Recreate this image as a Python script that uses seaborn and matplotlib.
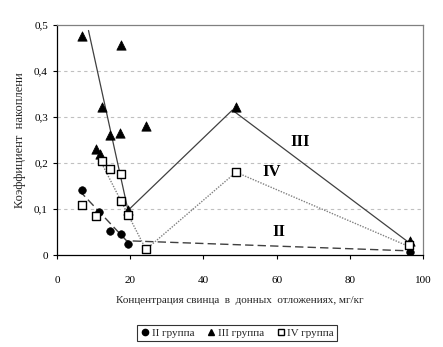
import matplotlib
matplotlib.use("Agg")
import matplotlib.pyplot as plt
import seaborn as sns
import pandas as pd
from matplotlib.lines import Line2D

sns.set_style("white")
plt.rcParams['font.family'] = ['Liberation Serif', 'DejaVu Serif']

# Data
g2_x = [6.7, 11.6, 14.5, 17.4, 19.4, 96.4]
g2_y = [0.141, 0.093, 0.052, 0.046, 0.025, 0.007]

g3_x = [6.9, 17.5, 12.4, 14.5, 17.3, 24.3, 10.6, 11.7, 19.4, 48.9, 96.4]
g3_y = [0.476, 0.457, 0.322, 0.26, 0.265, 0.28, 0.23, 0.22, 0.097, 0.322, 0.03]

g4_x = [6.8, 10.6, 12.3, 14.5, 17.4, 17.4, 19.5, 24.3, 48.9, 96.3]
g4_y = [0.108, 0.084, 0.204, 0.186, 0.177, 0.117, 0.087, 0.012, 0.18, 0.021]

# Trend lines
t2_x = [6.1, 19.0, 96.4]
t2_y = [0.140, 0.031, 0.009]
t3_x = [8.6, 19.4, 47.9, 96.0]
t3_y = [0.488, 0.097, 0.315, 0.028]
t4_x = [11.9, 24.3, 48.9, 96.3]
t4_y = [0.204, 0.012, 0.180, 0.018]

labels = ["II", "III", "IV"]
label_x = [60.5, 66.4, 58.7]
label_y = [0.05, 0.246, 0.181]

fig = plt.figure(figsize=(4.43, 3.47), dpi=100)
ax = fig.add_axes([0.1287, 0.2651, 0.8262, 0.6629])

for y in [0.1, 0.2, 0.3, 0.4]:
    ax.axhline(y, color='#c0c0c0', lw=0.8, ls=(0, (3, 3)), zorder=0)

sns.lineplot(x=t3_x, y=t3_y, ax=ax, sort=False, estimator=None, color='#404040', lw=0.9, zorder=2)
sns.lineplot(x=t4_x, y=t4_y, ax=ax, sort=False, estimator=None, color='#808080', lw=1.0, ls=(0, (1, 1)), zorder=2)
sns.lineplot(x=t2_x, y=t2_y, ax=ax, sort=False, estimator=None, color='#404040', lw=1.0, ls=(0, (6, 3)), zorder=2)

sns.scatterplot(x=g2_x, y=g2_y, ax=ax, marker='o', s=30, color='black', edgecolor='black', zorder=3)
sns.scatterplot(x=g3_x, y=g3_y, ax=ax, marker='^', s=45, color='black', edgecolor='black', zorder=3)
sns.scatterplot(x=g4_x, y=g4_y, ax=ax, marker='s', s=36, facecolor='white', edgecolor='black', linewidth=1.0, zorder=4)

for t, x, y in zip(labels, label_x, label_y):
    ax.text(x, y, t, fontsize=12, fontweight='bold', ha='center', va='center', color='black')

ax.set_xlim(0, 100)
ax.set_ylim(0, 0.5)
ax.set_xticks([0, 20, 40, 60, 80, 100])
ax.set_yticks([0, 0.1, 0.2, 0.3, 0.4, 0.5])
ax.set_yticklabels(['0', '0,1', '0,2', '0,3', '0,4', '0,5'])
ax.tick_params(axis='both', direction='out', length=3, width=0.8, labelsize=8, colors='black', bottom=True, left=True)
ax.tick_params(axis='x', pad=12)
for side in ['left', 'bottom']:
    ax.spines[side].set_color('black')
    ax.spines[side].set_linewidth(0.9)
for side in ['top', 'right']:
    ax.spines[side].set_color('#808080')
    ax.spines[side].set_linewidth(0.9)

ax.set_xlabel('Концентрация свинца  в  донных  отложениях, мг/кг', fontsize=8, labelpad=8)
ax.set_ylabel('Коэффициент  накоплени', fontsize=9, labelpad=6)

handles = [
    Line2D([], [], marker='o', ls='', color='black', markersize=4.5),
    Line2D([], [], marker='^', ls='', color='black', markersize=5),
    Line2D([], [], marker='s', ls='', markerfacecolor='white', markeredgecolor='black', markersize=4.5),
]
leg = fig.legend(handles, ['II группа', 'III группа', 'IV группа'], loc='center',
                 bbox_to_anchor=(237 / 443, 1 - 333 / 347), ncol=3, fontsize=8,
                 frameon=True, fancybox=False, edgecolor='black', handletextpad=0.1,
                 columnspacing=1.0, handlelength=1.0, borderpad=0.3)
leg.get_frame().set_linewidth(0.8)

fig.savefig('out.png', dpi=100)
